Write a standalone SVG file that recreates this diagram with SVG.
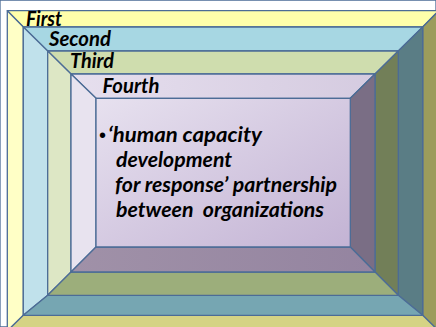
<svg xmlns="http://www.w3.org/2000/svg" width="436" height="327" viewBox="0 0 436 327">
  <defs>
    <linearGradient id="gInner" x1="0" y1="0" x2="1" y2="1">
      <stop offset="0" stop-color="#E7E1EF"/>
      <stop offset="1" stop-color="#C3B3D4"/>
    </linearGradient>
    <linearGradient id="gL4top" x1="0" y1="0" x2="1" y2="0">
      <stop offset="0" stop-color="#E6DFEE"/>
      <stop offset="1" stop-color="#D5CBE0"/>
    </linearGradient>
    <linearGradient id="gL4bot" x1="0" y1="0" x2="1" y2="0">
      <stop offset="0" stop-color="#A091A8"/>
      <stop offset="1" stop-color="#9484A0"/>
    </linearGradient>
    <style>
      polygon, rect { stroke: #4C6C96; stroke-width: 1.3; stroke-linejoin: round; }
      .y-t { fill: #FFFFAA; } .y-l { fill: #FFFFC6; } .y-r { fill: #9C9C5C; } .y-b { fill: #D5D384; }
      .b-t { fill: #A7D7E3; } .b-l { fill: #C0E1EB; } .b-r { fill: #5A7D85; } .b-b { fill: #76A6B2; }
      .g-t { fill: #CFDDAE; } .g-l { fill: #DDE7C5; } .g-r { fill: #727F58; } .g-b { fill: #9CAE7B; }
      .p-t { fill: url(#gL4top); } .p-l { fill: #E8E3EF; } .p-r { fill: #7A6E85; } .p-b { fill: url(#gL4bot); }
      .lbl { font-family: Lato, "Liberation Sans", sans-serif; font-weight: bold; font-style: italic; font-size: 21px; fill: #000; }
      .body { font-family: Lato, "Liberation Sans", sans-serif; font-weight: bold; font-style: italic; font-size: 21.5px; fill: #000; white-space: pre; }
      .bullet { font-family: "Liberation Sans", sans-serif; font-size: 20px; fill: #000; }
    </style>
  </defs>
  <rect x="0" y="0" width="436" height="327" fill="#FFFFFF" stroke="none"/>

  <g id="first">
    <polygon class="y-t" points="7.3,10.7 438.7,10.7 422.7,27 23.3,27"/>
    <polygon class="y-l" points="7.3,10.7 23.3,27 23.3,315.3 7.3,331"/>
    <polygon class="y-r" points="438.7,10.7 438.7,331 422.7,315.3 422.7,27"/>
    <polygon class="y-b" points="23.3,315.3 422.7,315.3 438.7,331 7.3,331"/>
    <text class="lbl" x="26" y="25.7" textLength="36" lengthAdjust="spacingAndGlyphs">First</text>
  </g>

  <g id="second">
    <polygon class="b-t" points="23.3,27 422.7,27 398.3,51 47.7,51"/>
    <polygon class="b-l" points="23.3,27 47.7,51 47.7,295.3 23.3,315.3"/>
    <polygon class="b-r" points="422.7,27 422.7,315.3 398.3,295.3 398.3,51"/>
    <polygon class="b-b" points="47.7,295.3 398.3,295.3 422.7,315.3 23.3,315.3"/>
    <text class="lbl" x="49" y="45.7" textLength="62" lengthAdjust="spacingAndGlyphs">Second</text>
  </g>

  <g id="third">
    <polygon class="g-t" points="47.7,51 398.3,51 375,74 71,74"/>
    <polygon class="g-l" points="47.7,51 71,74 71,272 47.7,295.3"/>
    <polygon class="g-r" points="398.3,51 398.3,295.3 375,272 375,74"/>
    <polygon class="g-b" points="71,272 375,272 398.3,295.3 47.7,295.3"/>
    <text class="lbl" x="70" y="68.3" textLength="44" lengthAdjust="spacingAndGlyphs">Third</text>
  </g>

  <g id="fourth">
    <polygon class="p-t" points="71,74 375,74 350.3,98.3 96,98.3"/>
    <polygon class="p-l" points="71,74 96,98.3 96,247 71,272"/>
    <polygon class="p-r" points="375,74 375,272 350.3,247 350.3,98.3"/>
    <polygon class="p-b" points="96,247 350.3,247 375,272 71,272"/>
    <text class="lbl" x="102.5" y="93.3" textLength="57" lengthAdjust="spacingAndGlyphs">Fourth</text>
  </g>

  <g id="center">
    <rect x="96" y="98.3" width="254.3" height="148.7" fill="url(#gInner)"/>
    <text class="bullet" x="99" y="142">•</text>
    <text class="body" x="108" y="142" textLength="154" lengthAdjust="spacingAndGlyphs">‘human capacity</text>
    <text class="body" x="116" y="167" textLength="116" lengthAdjust="spacingAndGlyphs">development</text>
    <text class="body" x="115" y="192" textLength="222" lengthAdjust="spacingAndGlyphs">for response’ partnership</text>
    <text class="body" x="116" y="217" textLength="208" lengthAdjust="spacingAndGlyphs">between  organizations</text>
  </g>
</svg>
